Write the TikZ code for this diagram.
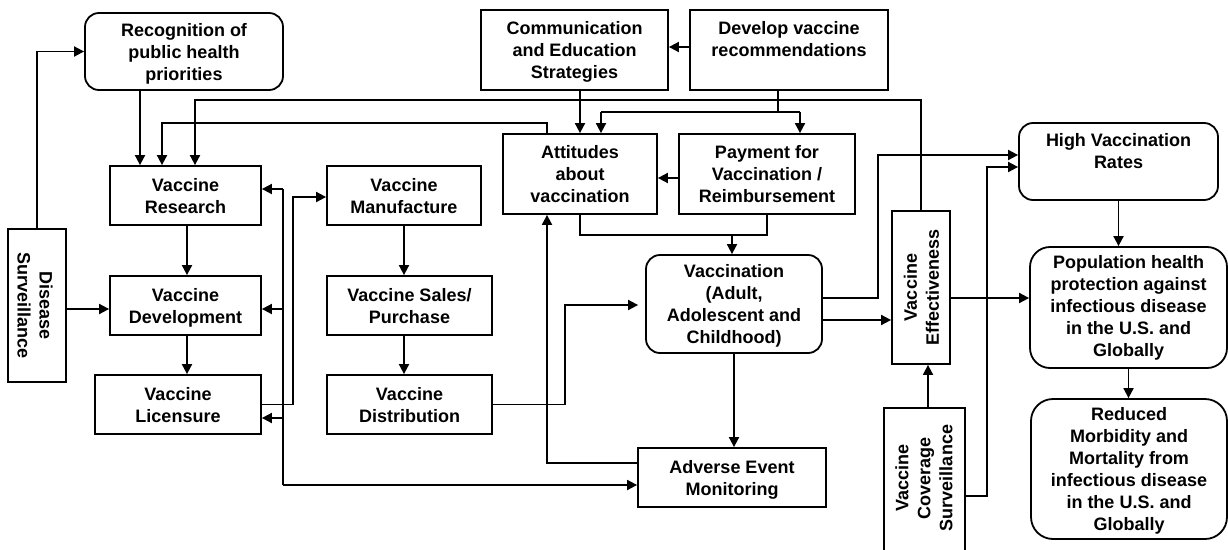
\documentclass[tikz,border=0pt]{standalone}
\usepackage{fontspec}
\setmainfont{Liberation Sans}
\usetikzlibrary{arrows.meta}
\tikzset{
  box/.style={draw, line width=1.8pt, align=center, inner sep=0pt,
              font=\bfseries\fontsize{18}{22}\selectfont},
  rbox/.style={box, rounded corners=14pt},
  txt/.style={align=center, inner sep=0pt, font=\bfseries\fontsize{18}{22}\selectfont},
  % a reduced text depth lowers the text block inside its box
  dn/.style={text depth=#1},
  ln/.style={line width=1.8pt},
  arr/.style={line width=1.8pt, -{Triangle[length=10pt,width=10pt]}}
}
\begin{document}
\begin{tikzpicture}[x=1pt,y=-1pt]
\useasboundingbox (0,0) rectangle (1228,549);

% ---- boxes ----
\node[rbox, dn=-3.2pt, minimum width=198pt, minimum height=77pt] (rec) at (184,51.5) {Recognition of\\public health\\priorities};
\node[box, dn=-6pt, minimum width=151pt, minimum height=59pt] (res) at (185.5,195.5) {Vaccine\\Research};
\node[box, dn=-2.2pt, minimum width=151pt, minimum height=59pt] (dev) at (185.5,305.5) {Vaccine\\Development};
\node[box, dn=-5pt, minimum width=166pt, minimum height=59pt] (lic) at (178,404.5) {Vaccine\\Licensure};
\node[box, minimum width=58pt, minimum height=153pt] (ds) at (37,305.5) {};
\node[txt, rotate=-90] (dst) at (35,305.5) {Disease\\Surveillance};

\node[box, dn=-6pt, minimum width=154pt, minimum height=59pt] (man) at (404,195.5) {Vaccine\\Manufacture};
\node[box, dn=-6pt, minimum width=165pt, minimum height=59pt] (sal) at (409.5,305.5) {Vaccine Sales/\\Purchase};
\node[box, dn=-6pt, minimum width=165pt, minimum height=59pt] (dis) at (409.5,404.5) {Vaccine\\Distribution};

\node[box, dn=-4.2pt, minimum width=187pt, minimum height=80pt] (com) at (574.5,50) {Communication\\and Education\\Strategies};
\node[box, dn=-1.4pt, minimum width=198pt, minimum height=80pt] (dvr) at (789,50) {Develop vaccine\\recommendations\\\strut};
\node[box, dn=-2pt, minimum width=154pt, minimum height=80pt] (att) at (580,174) {Attitudes\\about\\vaccination};
\node[box, dn=-2pt, minimum width=176pt, minimum height=80pt] (pay) at (767,174) {Payment for\\Vaccination /\\Reimbursement};

\node[rbox, dn=-4.2pt, minimum width=176pt, minimum height=98pt] (vac) at (734,304) {Vaccination\\(Adult,\\Adolescent and\\Childhood)};
\node[box, dn=-4.2pt, minimum width=188pt, minimum height=59pt] (aem) at (732,477.5) {Adverse Event\\Monitoring};

\node[box, minimum width=58pt, minimum height=153pt] (eff) at (921,287.5) {};
\node[txt, rotate=90] (efft) at (921.5,287.5) {Vaccine\\Effectiveness};
\node[box, minimum width=81pt, minimum height=152pt] (cov) at (924.5,484) {};
\node[txt, rotate=90] (covt) at (924,478) {Vaccine\\Coverage\\Surveillance};

\node[rbox, dn=-6.4pt, minimum width=199pt, minimum height=77pt] (hvr) at (1118.5,161.5) {High Vaccination\\Rates\\\strut};
\node[rbox, rounded corners=20pt, minimum width=197pt, minimum height=121pt] (pop) at (1128.5,307.5) {Population health\\protection against\\infectious disease\\in the U.S. and\\Globally};
\node[rbox, dn=-4.2pt, rounded corners=22pt, minimum width=196pt, minimum height=140pt] (red) at (1129,469) {Reduced\\Morbidity and\\Mortality from\\infectious disease\\in the U.S. and\\Globally};

% ---- bend points ----
\coordinate (t1) at (195,100);
\coordinate (t2) at (162,123);
\coordinate (b1) at (283,189);
\coordinate (b2) at (283,485);
\coordinate (b3) at (293,197);
\coordinate (b4) at (565,305);
\coordinate (b5) at (601,112);
\coordinate (b6) at (800,112);
\coordinate (b7) at (732,235);
\coordinate (b8) at (878,155);
\coordinate (b9) at (987,167);

% ---- connectors: research side ----
\draw[arr] (ds.north) |- (rec.west);
\draw[arr] ([xshift=-44pt]rec.south) -- ([xshift=-44pt]rec.south |- res.north);
\draw[arr] (eff.north) |- (t1) -- (t1 |- res.north);
\draw[arr] ([xshift=-33pt]att.north) |- (t2) -- (t2 |- res.north);
\draw[arr] ([xshift=1.5pt]res.south) -- ([xshift=1.5pt]res.south |- dev.north);
\draw[arr] ([xshift=1.5pt]dev.south) -- ([xshift=1.5pt]dev.south |- lic.north);
\draw[arr] ([yshift=-3.5pt]ds.east) -- ([yshift=-3.5pt]ds.east -| dev.west);

% adverse event feedback bus
\draw[ln] (b1) -- (b2);
\draw[arr] (b2) -- (b2 -| aem.west);
\draw[arr] (b1) -- (b1 -| res.east);
\draw[arr] ([yshift=-3.5pt]dev.east -| b1) -- ([yshift=-3.5pt]dev.east);
\draw[arr] ([yshift=-13.5pt]lic.east -| b1) -- ([yshift=-13.5pt]lic.east);

% ---- production chain ----
\draw[arr] (lic.east) -| (b3) -- (b3 -| man.west);
\draw[arr] (man.south) -- (man.south |- sal.north);
\draw[arr] ([xshift=-5.5pt]sal.south) -- ([xshift=-5.5pt]sal.south |- dis.north);
\draw[arr, shorten >=7pt] (dis.east) -| (b4) -- (b4 -| vac.west);

% ---- attitudes and recommendations ----
\draw[arr] ([yshift=14.5pt]aem.west) -| ([xshift=-33pt]att.south);
\draw[arr] (vac.south) -- (vac.south |- aem.north);
\draw[arr] (att.north |- com.south) -- (att.north);
\draw[ln] ([xshift=-11pt]dvr.south) -- ([xshift=-11pt]dvr.south |- b5);
\draw[ln] (b5) -- (b6);
\draw[arr] (b5) -- (b5 |- att.north);
\draw[arr] (b6) -- (b6 |- pay.north);
\draw[arr] ([yshift=3pt]dvr.west) -- ([yshift=3pt]dvr.west -| com.east);
\draw[arr] ([yshift=-4pt]pay.west) -- ([yshift=-4pt]pay.west -| att.east);
\draw[ln] (att.south) |- (b7) -| (pay.south);
\draw[arr] (b7) -- (b7 |- vac.north);

% ---- outcomes ----
\draw[arr] ([yshift=6pt]vac.east) -| (b8) -- (b8 -| hvr.west);
\draw[arr] ([yshift=-16pt]vac.east) -- ([yshift=-16pt]vac.east -| eff.west);
\draw[arr] ([yshift=-10.5pt]eff.east) -- ([yshift=-10.5pt]eff.east -| pop.west);
\draw[arr] ([xshift=3.5pt]cov.north) -- ([xshift=3.5pt]cov.north |- eff.south);
\draw[arr] ([yshift=-12pt]cov.east) -| (b9) -- (b9 -| hvr.west);
\draw[arr] (hvr.south) -- (hvr.south |- pop.north);
\draw[arr] (pop.south) -- (pop.south |- red.north);
\end{tikzpicture}
\end{document}
